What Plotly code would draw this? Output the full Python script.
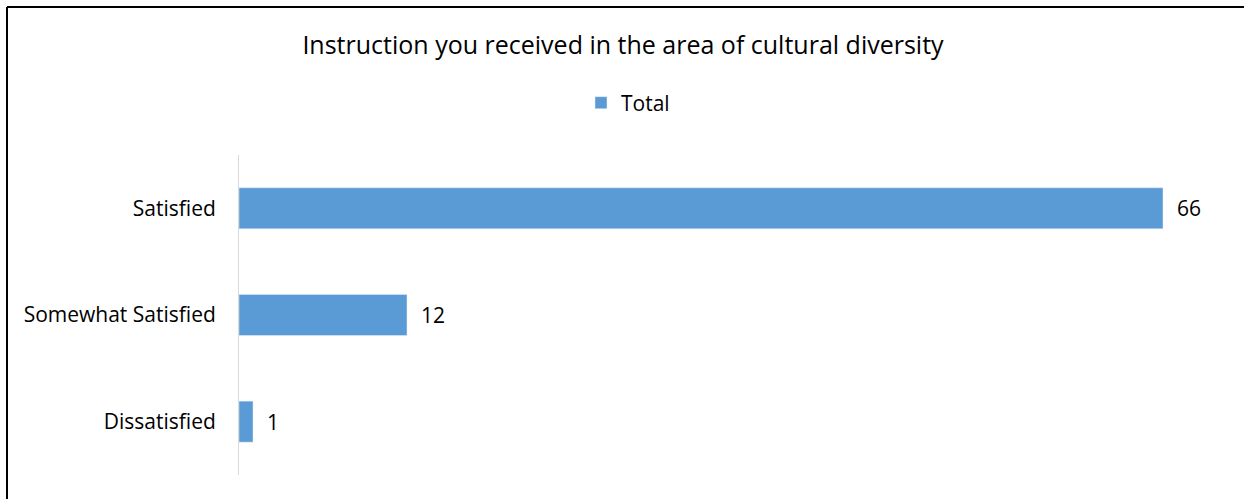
import plotly.graph_objects as go

categories = ["Dissatisfied", "Somewhat Satisfied", "Satisfied"]
values = [1, 12, 66]
series_name = "Total"
title_text = "Instruction you received in the area of cultural diversity"

W, H = 1244, 499
L, R, T, B = 239, 25, 155, 24
pw, ph = W - L - R, H - T - B

def px_to_paper_x(px):
    return (px - L) / pw

def px_to_paper_y(py):
    return (H - B - py) / ph

font_family = "Open Sans, Liberation Sans, sans-serif"

fig = go.Figure()
fig.add_trace(go.Bar(
    y=categories, x=values, orientation="h", name=series_name,
    marker=dict(color="#5b9bd5"),
    text=values, texttemplate="\u00a0\u00a0%{x}", textposition="outside",
    textfont=dict(size=21, color="#000000", family=font_family),
    cliponaxis=False,
))

fig.update_layout(
    width=W, height=H,
    margin=dict(l=L, r=R, t=T, b=B),
    paper_bgcolor="white", plot_bgcolor="white",
    title=dict(text=title_text, x=623 / W, xref="container", xanchor="center",
               y=1 - 45 / H, yref="container", yanchor="middle",
               font=dict(size=25, color="#000000", family=font_family)),
    showlegend=True,
    legend=dict(orientation="h", x=628 / W, xref="container", xanchor="center",
                y=1 - 103 / H, yref="container", yanchor="middle",
                font=dict(size=21, color="#000000", family=font_family),
                itemwidth=30),
    bargap=0.615,
    xaxis=dict(range=[0, 70], showgrid=False, zeroline=False, showticklabels=False,
               showline=False, fixedrange=True),
    yaxis=dict(showgrid=False, zeroline=False, showline=True, linecolor="#d9d9d9",
               linewidth=1, ticks="", ticklabelstandoff=18,
               tickfont=dict(size=21, color="#000000", family=font_family)),
    shapes=[
        dict(type="line", xref="paper", yref="paper",
             x0=px_to_paper_x(7), x1=px_to_paper_x(W + 5),
             y0=px_to_paper_y(7), y1=px_to_paper_y(7),
             line=dict(color="#000000", width=2)),
        dict(type="line", xref="paper", yref="paper",
             x0=px_to_paper_x(7), x1=px_to_paper_x(7),
             y0=px_to_paper_y(7), y1=px_to_paper_y(H + 5),
             line=dict(color="#000000", width=2)),
    ],
)

fig.write_html("out.html",
               config={"displayModeBar": False},
               post_script="document.body.style.margin='0px';document.body.style.overflow='hidden';")
